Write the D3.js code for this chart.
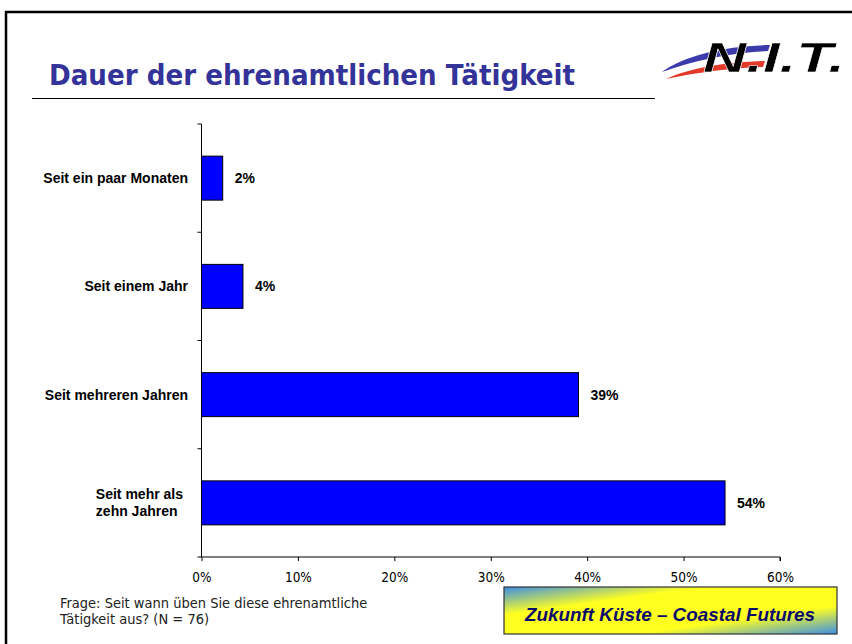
<!DOCTYPE html>
<html><head><meta charset="utf-8">
<script src="https://cdn.jsdelivr.net/npm/d3@7"></script>
<style>
html,body{margin:0;padding:0;background:#fff;}
svg{display:block;}
</style></head>
<body>
<svg id="c" width="852" height="644"></svg>
<script>
const categories = ["Seit ein paar Monaten", "Seit einem Jahr", "Seit mehreren Jahren", "Seit mehr als\nzehn Jahren"];
const values = [2.2, 4.3, 39.1, 54.3];
const valueLabels = ["2%", "4%", "39%", "54%"];
const xTicks = [0, 10, 20, 30, 40, 50, 60];
const titleText = "Dauer der ehrenamtlichen Tätigkeit";
const noteLines = ["Frage: Seit wann üben Sie diese ehrenamtliche", "Tätigkeit aus? (N = 76)"];
const boxText = "Zukunft Küste – Coastal Futures";

const svg = d3.select("#c");
const narrow = "'Liberation Sans Narrow','DejaVu Sans Condensed','Liberation Sans',sans-serif";
const arial = "'Liberation Sans',Arial,sans-serif";

// frame
svg.append("rect").attr("x", 6).attr("y", 12).attr("width", 900).attr("height", 700)
  .attr("fill", "none").attr("stroke", "#000").attr("stroke-width", 2.5);

// title
svg.append("text").attr("x", 49).attr("y", 85).text(titleText)
  .attr("font-family", "'DejaVu Sans Condensed','DejaVu Sans',sans-serif")
  .attr("font-stretch", "condensed")
  .attr("font-weight", "bold").attr("font-size", 28).attr("fill", "#333399")
  .attr("textLength", 526).attr("lengthAdjust", "spacingAndGlyphs");
svg.append("line").attr("x1", 32).attr("x2", 655).attr("y1", 98.5).attr("y2", 98.5)
  .attr("stroke", "#000").attr("stroke-width", 1);

// logo
const logo = svg.append("g");
logo.append("path").attr("d", "M662,72 C685,55 725,46 770,45 L768,51 C730,53 695,60 662,72 Z").attr("fill", "#3b3bab");
logo.append("path").attr("d", "M666,79 C690,68 725,62 765,61 L763,67 C730,68 700,72 666,79 Z").attr("fill", "#e3392b");
logo.append("text").attr("x", 703).attr("y", 72).text("N.I.T.")
  .attr("font-family", arial).attr("font-weight", "bold")
  .attr("font-style", "italic").attr("font-size", 42).attr("fill", "#000")
  .attr("stroke", "#fff").attr("stroke-width", 0.5).attr("textLength", 142)
  .attr("lengthAdjust", "spacingAndGlyphs");

// chart
const x = d3.scaleLinear().domain([0, 60]).range([201.5, 780]);
const yb = d3.scaleBand().domain(categories).range([124, 557]);

svg.append("g").selectAll("rect").data(categories).join("rect")
  .attr("x", x(0)).attr("y", (d) => yb(d) + yb.bandwidth() / 2 - 22)
  .attr("width", (d, i) => x(values[i]) - x(0)).attr("height", 44)
  .attr("fill", "#0000ff").attr("stroke", "#000").attr("stroke-width", 1);

// y axis
const ya = svg.append("g");
ya.append("line").attr("x1", x(0)).attr("x2", x(0)).attr("y1", 124).attr("y2", 557).attr("stroke", "#000");
ya.selectAll("line.t").data(d3.range(categories.length + 1)).join("line").attr("class", "t")
  .attr("x1", x(0) - 4).attr("x2", x(0)).attr("y1", (i) => 124 + i * yb.step()).attr("y2", (i) => 124 + i * yb.step())
  .attr("stroke", "#000");

// x axis
const xa = svg.append("g").attr("transform", "translate(0,557)")
  .call(d3.axisBottom(x).tickValues(xTicks).tickSize(4).tickPadding(11).tickFormat((d) => d + "%"));
xa.select(".domain").attr("d", `M${x(0)},0H${x(60)}V4`);
xa.selectAll("text").attr("font-family", narrow).attr("font-size", 13.5).attr("fill", "#000");

// category labels
svg.append("g").selectAll("text").data(categories).join("text")
  .attr("font-family", arial).attr("font-weight", "bold").attr("font-size", 14)
  .attr("fill", "#000")
  .each(function (d) {
    const lines = d.split("\n");
    const t = d3.select(this);
    const cy = yb(d) + yb.bandwidth() / 2;
    lines.forEach((l, j) => {
      t.append("tspan").attr("y", cy + 5 + (j - (lines.length - 1) / 2) * 17).text(l);
    });
    if (lines.length === 1) {
      t.attr("text-anchor", "end").selectAll("tspan").attr("x", 188);
    } else {
      let w = 0;
      t.selectAll("tspan").each(function () { w = Math.max(w, this.getComputedTextLength()); });
      t.attr("text-anchor", "start").selectAll("tspan").attr("x", 183 - w);
    }
  });

// value labels
svg.append("g").selectAll("text").data(categories).join("text")
  .attr("x", (d, i) => x(values[i]) + 12).attr("y", (d) => yb(d) + yb.bandwidth() / 2 + 5)
  .text((d, i) => valueLabels[i])
  .attr("font-family", arial).attr("font-weight", "bold").attr("font-size", 14);

// note
svg.append("g").selectAll("text").data(noteLines).join("text")
  .attr("x", 60).attr("y", (d, i) => 608 + i * 15.5).text((d) => d)
  .attr("font-family", narrow).attr("font-size", 14.5).attr("fill", "#222");

// gradient box
const defs = svg.append("defs");
const g = defs.append("linearGradient").attr("id", "gb").attr("x1", "0").attr("y1", "0").attr("x2", "1").attr("y2", "1");
g.append("stop").attr("offset", "0").attr("stop-color", "#3a8ee8");
g.append("stop").attr("offset", "0.3").attr("stop-color", "#ffff20");
g.append("stop").attr("offset", "0.7").attr("stop-color", "#ffff20");
g.append("stop").attr("offset", "1").attr("stop-color", "#3a8ee8");
svg.append("rect").attr("x", 504).attr("y", 587).attr("width", 333).attr("height", 47)
  .attr("fill", "url(#gb)").attr("stroke", "#333").attr("stroke-width", 1.2);
svg.append("text").attr("x", 670).attr("y", 621).attr("text-anchor", "middle").text(boxText)
  .attr("font-family", arial).attr("font-weight", "bold")
  .attr("font-style", "italic").attr("font-size", 18).attr("fill", "#0a0a6a")
  .attr("textLength", 290).attr("lengthAdjust", "spacingAndGlyphs");
</script>
</body></html>
